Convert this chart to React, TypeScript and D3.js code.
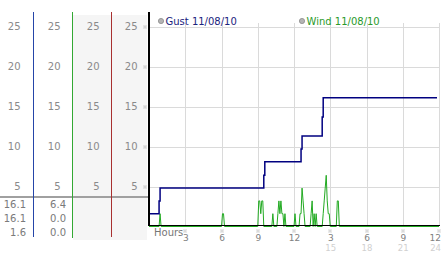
import React from "react";
import * as d3 from "d3";

// ---- data (minutes since midnight, speed) ----
const gustTimes = [0, 50, 55, 570, 575, 755, 760, 860, 865, 1430];
const gustValues = [1.6, 3.2, 4.8, 6.4, 8.1, 9.7, 11.3, 13.7, 16.1, 16.1];

const windTimes = [
  0, 50, 55, 60,
  360, 365, 370, 375,
  540, 545, 550, 555, 560, 565, 570,
  610, 615, 620,
  635, 640, 645, 650, 655, 660, 665, 670, 675, 680,
  720, 725, 730,
  745, 750, 755, 760, 765, 770, 775,
  800, 805, 810, 815, 820, 825, 830, 835,
  860, 865, 870, 875, 880, 885, 890, 895, 900,
  930, 935, 940, 945,
  1440,
];
const windValues = [
  0, 0, 1.6, 0,
  0, 1.6, 1.6, 0,
  0, 3.2, 3.2, 1.6, 3.2, 3.2, 0,
  0, 1.6, 0,
  0, 1.6, 3.2, 1.6, 3.2, 1.6, 1.6, 0, 1.6, 0,
  0, 1.6, 0,
  0, 1.6, 1.6, 4.8, 3.2, 1.6, 0,
  0, 1.6, 3.2, 0, 1.6, 0, 1.6, 0,
  0, 1.6, 3.2, 4.8, 6.4, 3.2, 1.6, 1.6, 0,
  0, 3.2, 3.2, 0,
  0,
];

const yTicks = [5, 10, 15, 20, 25];
const xTickMinutes = [180, 360, 540, 720, 900, 1080, 1260, 1440];
const xTickLabels1 = ["3", "6", "9", "12", "3", "6", "9", "12"];
const xTickLabels2 = ["", "", "", "", "15", "18", "21", "24"];

const gustStats = ["16.1", "16.1", "1.6"];
const windStats = ["6.4", "0.0", "0.0"];

const legendItems = [
  { label: "Gust 11/08/10", color: "#1a237e", x: 161 },
  { label: "Wind 11/08/10", color: "#2a9a2a", x: 302 },
];

const FONT = "DejaVu Sans, Verdana, sans-serif";

function Marker({ x, y }: { x: number; y: number }) {
  const pts = [
    [-1, -1],
    [1, -1],
    [0, 0],
    [-1, 1],
    [1, 1],
  ];
  return (
    <g>
      {pts.map((p, i) => (
        <rect key={i} x={Math.round(x) + p[0] - 0.5} y={Math.round(y) + p[1] - 0.5} width={1} height={1} fill="#aaa" />
      ))}
    </g>
  );
}

export default function App() {
  const W = 442;
  const H = 253;
  const x = d3.scaleLinear().domain([0, 1440]).range([149, 439]);
  const y = d3.scaleLinear().domain([0, 25]).range([226.5, 26.5]);

  const gustData = gustTimes.map((t, i) => [t, gustValues[i]] as [number, number]);
  const windData = windTimes.map((t, i) => [t, windValues[i]] as [number, number]);

  const gustLine = d3
    .line<[number, number]>()
    .x((d) => x(d[0]))
    .y((d) => y(d[1]))
    .curve(d3.curveStepAfter);
  const windLine = d3
    .line<[number, number]>()
    .x((d) => x(d[0]))
    .y((d) => y(d[1]));

  const colLabelX = [20.5, 60.5, 99.5, 137.5];
  const statRowsY = [208, 222, 236];
  const lastIdx = xTickMinutes.length - 1;

  return (
    <svg
      width={W}
      height={H}
      style={{ position: "absolute", left: 0, top: 0, background: "#fff" }}
      fontFamily={FONT}
    >
      <rect x={0} y={0} width={W} height={H} fill="#fff" />
      {/* gray column backgrounds */}
      <rect x={73} y={15} width={74} height={225} fill="#f5f5f5" />

      {/* horizontal gray divider */}
      <line x1={0} x2={149} y1={197} y2={197} stroke="#a0a0a0" strokeWidth={2} />

      {/* column vertical lines */}
      <line x1={33.5} x2={33.5} y1={12} y2={237} stroke="#2545a8" strokeWidth={1} />
      <line x1={72.5} x2={72.5} y1={12} y2={238} stroke="#33a833" strokeWidth={1} />
      <line x1={111.5} x2={111.5} y1={12} y2={237} stroke="#a83030" strokeWidth={1} />

      {/* column tick labels */}
      {colLabelX.map((cx, ci) =>
        yTicks.map((v) => (
          <text
            key={`c${ci}-${v}`}
            x={cx}
            y={y(v) + 3.5}
            textAnchor="end"
            fontSize={10}
            fill="#8a8a8a"
          >
            {v}
          </text>
        ))
      )}

      {/* stats */}
      {gustStats.map((s, i) => (
        <text key={`gs${i}`} x={26} y={statRowsY[i]} textAnchor="end" fontSize={10} fill="#7a7a7a">
          {s}
        </text>
      ))}
      {windStats.map((s, i) => (
        <text key={`ws${i}`} x={66} y={statRowsY[i]} textAnchor="end" fontSize={10} fill="#7a7a7a">
          {s}
        </text>
      ))}

      {/* plot grid */}
      {yTicks.map((v) => (
        <line key={`hg${v}`} x1={150} x2={440} y1={Math.round(y(v)) + 0.5} y2={Math.round(y(v)) + 0.5} stroke="#dadada" />
      ))}
      {xTickMinutes.map((m) => (
        <line key={`vg${m}`} x1={Math.round(x(m)) + 0.5} x2={Math.round(x(m)) + 0.5} y1={23} y2={226} stroke="#dadada" />
      ))}

      {/* y markers */}
      {yTicks.map((v) => (
        <Marker key={`ym${v}`} x={145} y={y(v)} />
      ))}

      {/* legend */}
      {legendItems.map((it) => (
        <g key={it.label}>
          <circle cx={it.x} cy={21} r={2.6} fill="#b4b4b4" stroke="#8c8c8c" strokeWidth={0.8} />
          <text x={it.x + 4.5} y={24.5} fontSize={10} fill={it.color}>
            {it.label}
          </text>
        </g>
      ))}

      {/* wind line */}
      <path d={windLine(windData) || ""} fill="none" stroke="#22aa22" strokeWidth={1} />
      {/* gust line */}
      <path d={gustLine(gustData) || ""} fill="none" stroke="#000080" strokeWidth={1.5} />

      {/* axes */}
      <line x1={148} x2={440} y1={225.5} y2={225.5} stroke="#000" strokeWidth={1} />
      <line x1={149} x2={149} y1={12} y2={226} stroke="#000" strokeWidth={2} />

      {/* x ticks */}
      <text x={154} y={236} fontSize={10} fill="#777">
        Hours
      </text>
      {xTickMinutes.map((m, i) => {
        const isLast = i === lastIdx;
        const tx = isLast ? 441 : x(m) + 0.5;
        const anchor = isLast ? "end" : "middle";
        return (
          <g key={`xt${m}`}>
            <Marker x={x(m)} y={231} />
            <text x={tx} y={240.5} textAnchor={anchor} fontSize={9} fill="#808080">
              {xTickLabels1[i]}
            </text>
            {xTickLabels2[i] && (
              <text x={tx} y={250.5} textAnchor={anchor} fontSize={8.5} fill="#d0d0d0">
                {xTickLabels2[i]}
              </text>
            )}
          </g>
        );
      })}
    </svg>
  );
}
